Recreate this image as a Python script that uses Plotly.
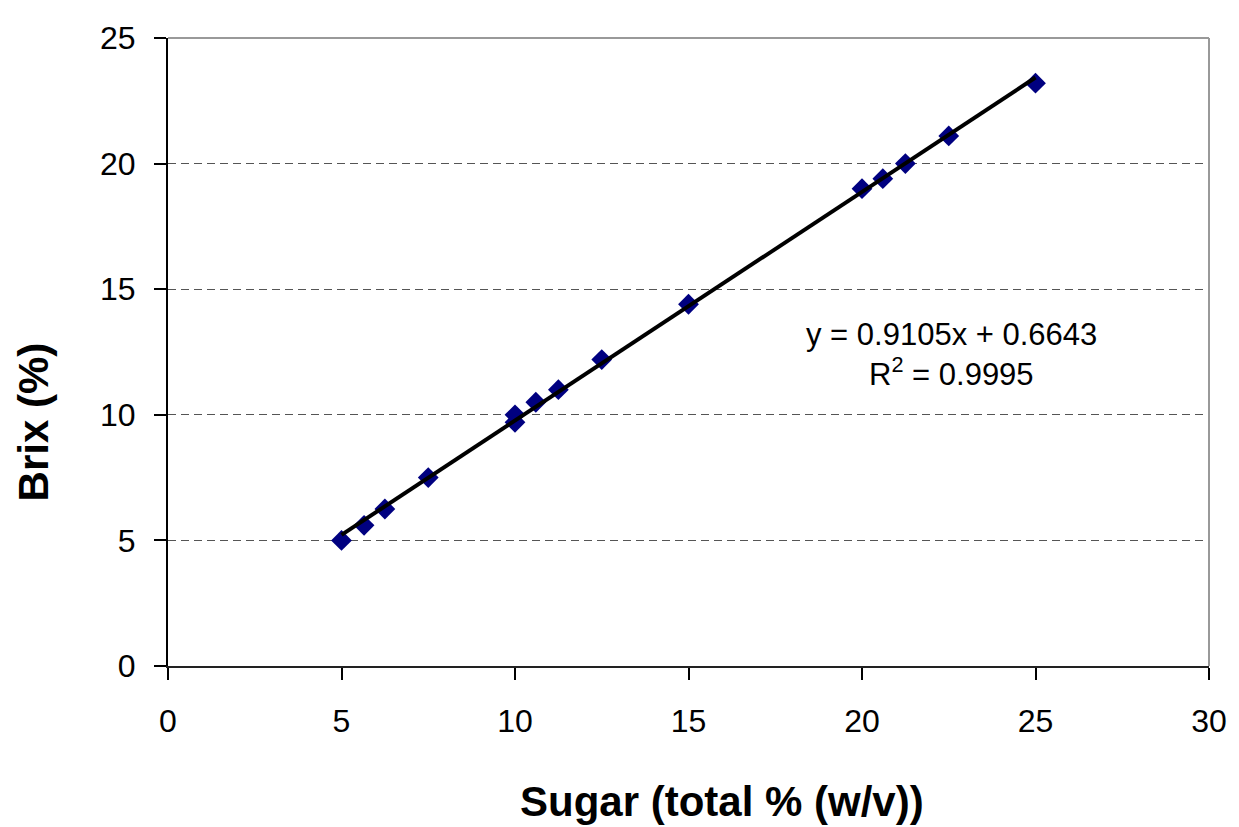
import plotly.graph_objects as go

sugar = [5.0, 5.65, 6.25, 7.5, 10.0, 10.0, 10.6, 11.25, 12.5, 15.0, 20.0, 20.6, 21.25, 22.5, 25.0]
brix = [5.0, 5.6, 6.25, 7.5, 10.0, 9.7, 10.5, 11.0, 12.2, 14.4, 19.0, 19.4, 20.0, 21.1, 23.2]
slope, intercept = 0.9105, 0.6643
fit_x = [min(sugar), max(sugar)]
fit_y = [slope * v + intercept for v in fit_x]
x_ticks = [0, 5, 10, 15, 20, 25, 30]
y_ticks = [0, 5, 10, 15, 20, 25]

fig = go.Figure()
fig.add_trace(go.Scatter(x=sugar, y=brix, mode="markers",
                         marker=dict(symbol="diamond", size=16, color="#000080"),
                         showlegend=False))
fig.add_trace(go.Scatter(x=fit_x, y=fit_y, mode="lines",
                         line=dict(color="black", width=4), showlegend=False, hoverinfo="skip"))

font = "Arial, Liberation Sans, sans-serif"
fig.update_layout(
    width=1231, height=819,
    margin=dict(l=160, r=24, t=23, b=161),
    paper_bgcolor="white", plot_bgcolor="white",
    font=dict(family=font, size=32, color="black"),
    xaxis=dict(range=[0, 30], tickvals=x_ticks, showgrid=False, zeroline=False,
               showline=True, linecolor="#222222", linewidth=2,
               ticks="outside", ticklen=12, tickcolor="black", tickwidth=1.5,
               ticklabelstandoff=14,
               tickfont=dict(size=32, color="black")),
    yaxis=dict(range=[0, 25], tickvals=y_ticks, showgrid=True, gridcolor="#555555",
               griddash="8px,5px", gridwidth=1, zeroline=False,
               showline=True, linecolor="black", linewidth=2,
               ticks="outside", ticklen=12, tickcolor="black", tickwidth=1.5,
               ticklabelstandoff=12,
               tickfont=dict(size=32, color="black")),
    shapes=[
        dict(type="line", xref="paper", yref="paper", x0=0, x1=1, y0=1, y1=1,
             line=dict(color="#999999", width=2)),
        dict(type="line", xref="paper", yref="paper", x0=1, x1=1, y0=0, y1=1,
             line=dict(color="#999999", width=2)),
    ],
    annotations=[
        dict(x=22.58, y=13.2, xref="x", yref="y", showarrow=False,
             text="y = 0.9105x + 0.6643", font=dict(size=31)),
        dict(x=22.58, y=11.7, xref="x", yref="y", showarrow=False,
             text="R<sup>2</sup> = 0.9995", font=dict(size=31)),
        dict(x=0.532, y=-0.215, xref="paper", yref="paper", showarrow=False,
             xanchor="center", yanchor="middle",
             text="<b>Sugar (total % (w/v))</b>", font=dict(size=42)),
        dict(x=-0.129, y=0.389, xref="paper", yref="paper", showarrow=False,
             xanchor="center", yanchor="middle", textangle=-90,
             text="<b>Brix (%)</b>", font=dict(size=42)),
    ],
)
fig.write_html("out.html")
